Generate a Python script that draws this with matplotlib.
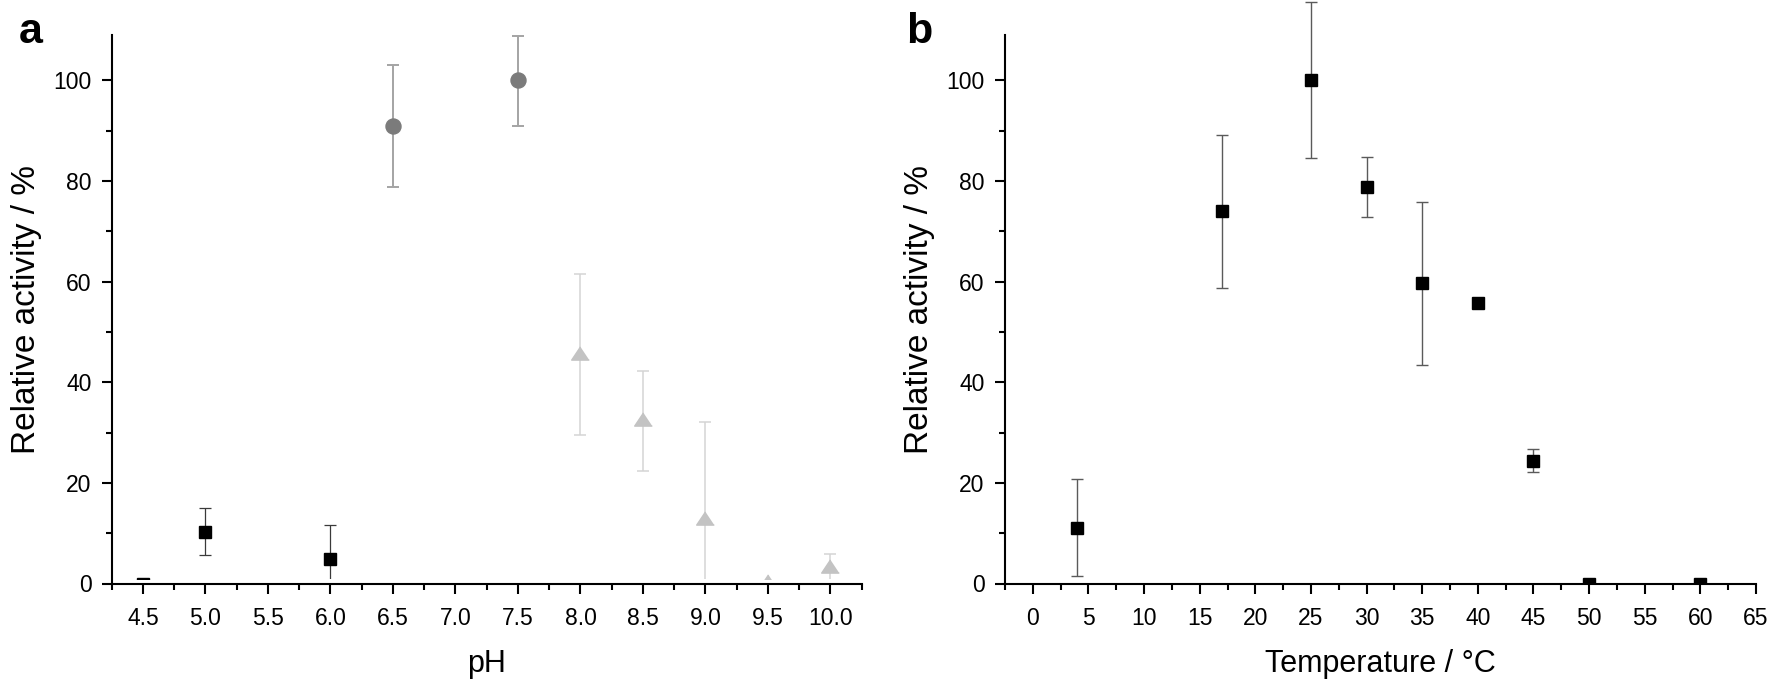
import matplotlib
matplotlib.use("Agg")
import matplotlib.pyplot as plt
from matplotlib.patches import Rectangle
from matplotlib.ticker import MultipleLocator, FormatStrFormatter

plt.rcParams['font.family'] = ['Liberation Sans', 'DejaVu Sans']

# ---------------- data : panel a (pH) ----------------
ph_sq = [4.5, 5.0, 6.0]
act_sq = [0.0, 10.3, 4.8]
sq_lo = [0.0, 5.6, 0.0]
sq_hi = [0.0, 15.1, 11.6]

ph_ci = [6.5, 7.5]
act_ci = [91.0, 100.0]
ci_lo = [78.8, 91.0]
ci_hi = [103.0, 108.9]

ph_tr = [8.0, 8.5, 9.0, 9.5, 10.0]
act_tr = [45.9, 32.7, 13.0, 0.5, 3.4]
tr_lo = [29.5, 22.3, 0.0, 0.5, 0.0]
tr_hi = [61.6, 42.2, 32.1, 0.5, 5.8]

# ---------------- data : panel b (temperature) ----------------
temp = [4, 17, 25, 30, 35, 40, 45, 50, 60]
act_t = [11.0, 74.0, 100.0, 78.8, 59.7, 55.7, 24.4, 0.0, 0.0]
t_lo = [1.4, 58.7, 84.6, 72.8, 43.5, 55.7, 22.1, 0.0, 0.0]
t_hi = [20.7, 89.2, 115.5, 84.7, 75.9, 55.7, 26.7, 0.0, 0.0]

W, H = 1768, 679
fig = plt.figure(figsize=(W / 100, H / 100), dpi=100)
fig.patch.set_facecolor('white')

bottom = (H - 583.5) / H
height = 548.5 / H
ax_a = fig.add_axes([111.7 / W, bottom, 750.0 / W, height])
ax_b = fig.add_axes([1005.0 / W, bottom, 751.0 / W, height])

TRI = [(0, 0.75), (-1, -0.75), (1, -0.75)]


def yerr(vals, lo, hi):
    return [[v - l for v, l in zip(vals, lo)], [h - v for v, h in zip(vals, hi)]]


def style(ax):
    for s in ['top', 'right']:
        ax.spines[s].set_visible(False)
    for s in ['left', 'bottom']:
        ax.spines[s].set_linewidth(1.5)
    ax.tick_params(which='major', direction='out', length=7.3, width=1.5,
                   labelsize=16.5, color='black')
    ax.tick_params(which='minor', direction='out', length=4.3, width=1.5)
    ax.tick_params(axis='x', which='major', pad=9.5)
    ax.tick_params(axis='y', which='major', pad=7.3)
    ax.set_ylim(0, 109)
    ax.yaxis.set_major_locator(MultipleLocator(20))
    ax.yaxis.set_minor_locator(MultipleLocator(10))
    ax.set_facecolor('none')


# ---- panel a ----
ax_a.errorbar(ph_sq, act_sq, yerr=yerr(act_sq, sq_lo, sq_hi), fmt='s', ms=8.9,
              mfc='black', mec='black', ecolor='#3a3a3a', elinewidth=0.9,
              capsize=4.2, capthick=0.9, zorder=3)
ax_a.errorbar(ph_ci, act_ci, yerr=yerr(act_ci, ci_lo, ci_hi), fmt='o', ms=10.8,
              mfc='#7b7b7b', mec='#7b7b7b', ecolor='#a4a4a4', elinewidth=1.4,
              capsize=4.4, capthick=1.4, zorder=3)
ax_a.errorbar(ph_tr, act_tr, yerr=yerr(act_tr, tr_lo, tr_hi), fmt='none',
              ecolor='#d4d4d4', elinewidth=1.1, capsize=4.3, capthick=1.1, zorder=2)
ax_a.plot(ph_tr, act_tr, linestyle='none', marker=TRI, ms=12.7,
          mfc='#c3c3c3', mec='#c3c3c3', zorder=3)

ax_a.set_xlim(4.25, 10.25)
ax_a.xaxis.set_major_locator(MultipleLocator(0.5))
ax_a.xaxis.set_minor_locator(MultipleLocator(0.25))
ax_a.xaxis.set_major_formatter(FormatStrFormatter('%.1f'))
style(ax_a)
ax_a.set_xlabel('pH', fontsize=22, labelpad=14)
ax_a.set_ylabel('Relative activity / %', fontsize=24, labelpad=8)

clip_a = Rectangle((4.0, 0.83), 7.0, 130.0, transform=ax_a.transData)
for art in list(ax_a.lines) + list(ax_a.collections):
    art.set_clip_path(clip_a)

# ---- panel b ----
ax_b.errorbar(temp, act_t, yerr=yerr(act_t, t_lo, t_hi), fmt='s', ms=8.9,
              mfc='black', mec='black', ecolor='#5a5a5a', elinewidth=1.0,
              capsize=4.0, capthick=1.0, zorder=3)
ax_b.set_xlim(-2.5, 65)
ax_b.xaxis.set_major_locator(MultipleLocator(5))
ax_b.xaxis.set_minor_locator(MultipleLocator(2.5))
style(ax_b)
ax_b.set_xlabel('Temperature / °C', fontsize=22, labelpad=14)
ax_b.set_ylabel('Relative activity / %', fontsize=24, labelpad=8)

clip_b = Rectangle((-10.0, 0.0), 90.0, 130.0, transform=ax_b.transData)
for art in list(ax_b.lines) + list(ax_b.collections):
    art.set_clip_path(clip_b)

# panel letters
fig.text(18.5 / W, 1 - 43.0 / H, 'a', fontsize=31, fontweight='bold',
         ha='left', va='baseline')
fig.text(906.5 / W, 1 - 43.0 / H, 'b', fontsize=31, fontweight='bold',
         ha='left', va='baseline')

fig.savefig('out.png', dpi=100, facecolor='white')
